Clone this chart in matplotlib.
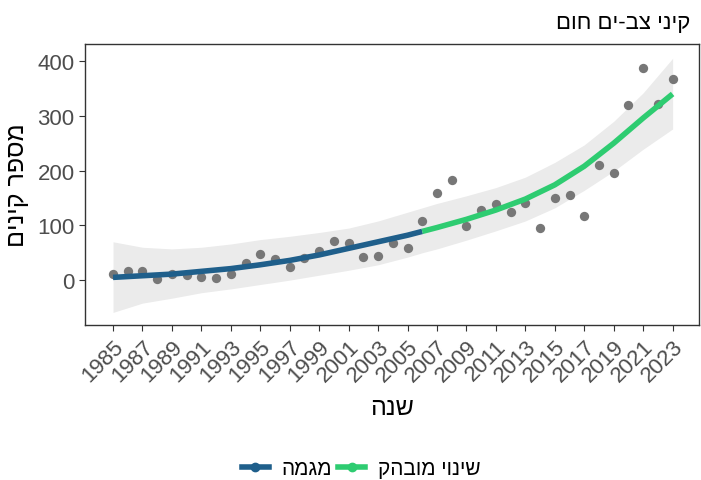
import numpy as np
import matplotlib.pyplot as plt
from matplotlib.lines import Line2D

plt.rcParams['font.family'] = ['Liberation Sans', 'DejaVu Sans']

# observed nests per year
years = np.arange(1985, 2024)
nests = [11, 16, 16, 2, 12, 9, 6, 4, 11, 32, 47, 38, 24, 40, 53, 72, 67, 43, 44, 68,
         58, 108, 159, 183, 99, 128, 139, 124, 141, 95, 150, 156, 117, 211, 195, 320, 387, 321, 367]

# smooth trend
fit_years = [1985, 1987, 1989, 1991, 1993, 1995, 1997, 1999, 2001, 2003, 2005, 2006,
             2007, 2009, 2011, 2013, 2015, 2017, 2019, 2021, 2023]
fit_vals = [5, 8, 11, 16, 21, 28, 36, 46, 58, 70, 82, 89,
            96, 111, 128, 148, 174, 208, 250, 296, 340]
fit_upper = [70, 60, 57, 60, 66, 74, 80, 87, 95, 108, 124, 132,
             140, 154, 169, 188, 215, 247, 290, 342, 405]
fit_lower = [-59, -42, -33, -23, -16, -8, 0, 9, 18, 28, 42, 50,
             57, 73, 90, 108, 132, 164, 199, 239, 276]
break_year = 2006

title = "קיני צב-ים חום"
xlab = "שנה"
ylab = "מספר קינים"
lab_trend = "מגמה"
lab_change = "שינוי מובהק"


def rtl(s):
    return s[::-1]


blue = '#1f5f8b'
green = '#2ecc71'

fig = plt.figure(figsize=(7.01, 4.81), dpi=100)
ax = fig.add_axes([0.1213, 0.3222, 0.876, 0.584])

fy = np.array(fit_years)
fv = np.array(fit_vals)
ax.fill_between(fy, fit_lower, fit_upper, color='#ebebeb', lw=0, zorder=1)
ax.scatter(years, nests, s=45, color='#777777', zorder=2, lw=0)
m1 = fy <= break_year
m2 = fy >= break_year
ax.plot(fy[m1], fv[m1], color=blue, lw=4, zorder=3, solid_capstyle='butt')
ax.plot(fy[m2], fv[m2], color=green, lw=4, zorder=3, solid_capstyle='butt')

ax.set_xlim(1983.1, 2024.8)
ax.set_ylim(-82, 431)
ax.set_yticks([0, 100, 200, 300, 400])
ax.set_xticks(np.arange(1985, 2024, 2))
ax.tick_params(axis='both', labelsize=16, labelcolor='#4d4d4d', color='#333333', length=4)
for lab in ax.get_xticklabels():
    lab.set_rotation(45)
    lab.set_ha('right')
    lab.set_rotation_mode('anchor')
for sp in ax.spines.values():
    sp.set_color('#333333')
    sp.set_linewidth(1)

ax.set_xlabel(rtl(xlab), fontsize=18, labelpad=7)
ax.set_ylabel(rtl(ylab), fontsize=18, labelpad=6)
fig.text(0.985, 0.952, rtl(title), ha='right', va='center', fontsize=16)

handles = [Line2D([], [], color=blue, lw=4, marker='o', ms=6),
           Line2D([], [], color=green, lw=4, marker='o', ms=6)]
fig.legend(handles, [rtl(lab_trend), rtl(lab_change)], loc='center',
           bbox_to_anchor=(0.515, 0.024), ncol=2, frameon=False, fontsize=15,
           handlelength=1.3, columnspacing=0.3, handletextpad=0.6)

fig.savefig('out.png', dpi=100)
